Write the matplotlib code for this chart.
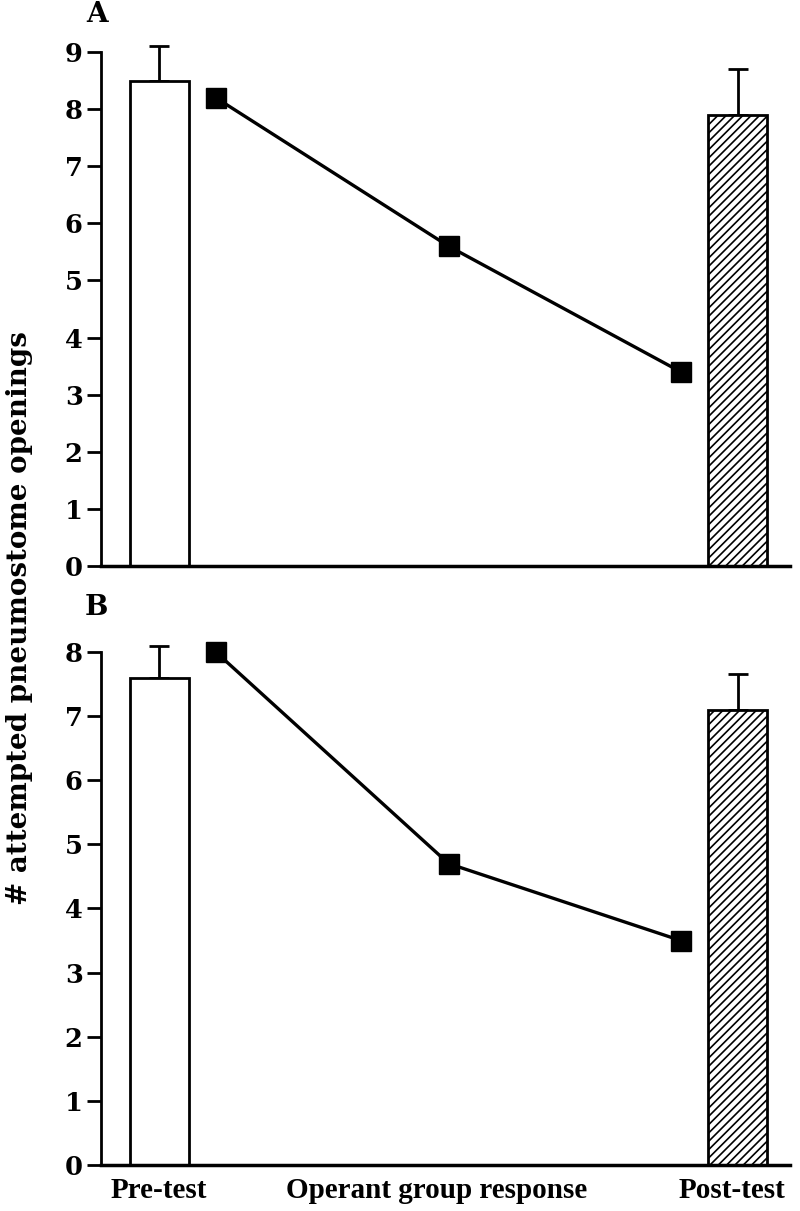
import matplotlib
matplotlib.use("Agg")
import matplotlib.pyplot as plt

# ---- data ----
phases = ["Pre-test", "Operant group response", "Post-test"]
a_pre, a_pre_err = 8.5, 0.6
a_post, a_post_err = 7.9, 0.8
a_operant = [8.2, 5.6, 3.4]
b_pre, b_pre_err = 7.6, 0.5
b_post, b_post_err = 7.1, 0.55
b_operant = [8.0, 4.7, 3.5]
a_ticks = list(range(0, 10))
b_ticks = list(range(0, 9))

# ---- layout ----
pre_x, post_x, bar_w = 8.49, 92.5, 8.56
op_x = [16.7, 50.5, 84.2]
label_x = [8.4, 48.8, 91.6]

plt.rcParams['font.family'] = ['Liberation Serif', 'DejaVu Serif']
plt.rcParams['hatch.linewidth'] = 1.2
heavy = ['DejaVu Serif']

fig = plt.figure(figsize=(8, 12.11), dpi=100)
axA = fig.add_axes([0.126, 0.5326, 0.861, 0.4244])
axB = fig.add_axes([0.126, 0.038, 0.861, 0.4236])

def draw(ax, pre, pre_err, post, post_err, operant, ticks, label, ly):
    ax.bar([pre_x], [pre], width=bar_w, color='white', edgecolor='black', linewidth=2,
           zorder=2, clip_on=False)
    ax.bar([post_x], [post], width=bar_w, color='white', edgecolor='black', linewidth=2,
           hatch='////', zorder=2, clip_on=False)
    eb = ax.errorbar([pre_x, post_x], [pre, post], yerr=[[0, 0], [pre_err, post_err]],
                     fmt='none', ecolor='black', elinewidth=2, capsize=7, capthick=2, zorder=1)
    for art in eb.lines[1] + eb.lines[2]:
        art.set_clip_on(False)
    ax.plot(op_x, operant, color='black', linewidth=2.4, marker='s', markersize=15,
            markerfacecolor='black', markeredgecolor='black', zorder=3, clip_on=False)
    ax.set_xlim(0, 100)
    ax.set_ylim(0, max(ticks))
    ax.set_yticks(ticks)
    ax.set_yticklabels([str(t) for t in ticks], fontsize=18.5, fontweight='bold', family=heavy)
    ax.set_xticks([])
    for s in ['top', 'right']:
        ax.spines[s].set_visible(False)
    ax.spines['left'].set_linewidth(2)
    ax.spines['bottom'].set_linewidth(2.5)
    ax.tick_params(axis='y', direction='out', length=10, width=2, pad=3)
    ax.text(-0.006, ly, label, transform=ax.transAxes, family=heavy,
            fontsize=20, fontweight='bold', ha='center', va='center')

draw(axA, a_pre, a_pre_err, a_post, a_post_err, a_operant, a_ticks, 'A', 1.073)
draw(axB, b_pre, b_pre_err, b_post, b_post_err, b_operant, b_ticks, 'B', 1.086)

for x, name in zip(label_x, phases):
    axB.text(x, -0.049, name, transform=axB.get_xaxis_transform(), ha='center', va='center',
             fontsize=21, fontweight='bold')

fig.text(0.025, 0.49, "# attempted pneumostome openings", rotation=90, ha='center',
         va='center', fontsize=20, fontweight='bold', family=heavy)

fig.savefig("out.png", dpi=100)
